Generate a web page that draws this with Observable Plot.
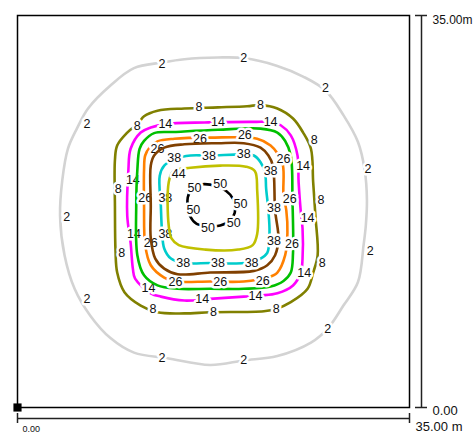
<!DOCTYPE html>
<html>
<head>
<meta charset="utf-8">
<script src="https://cdn.jsdelivr.net/npm/d3@7"></script>
<script src="https://cdn.jsdelivr.net/npm/@observablehq/plot@0.6"></script>
<style>
  html, body { margin: 0; padding: 0; background: white; }
</style>
</head>
<body>
<div id="chart"></div>
<script>
// Contour levels and their colours
const levels = [2, 8, 14, 20, 26, 32, 38, 44, 50];
const colors = ["#d3d3d3", "#808000", "#ff00ff", "#00c000", "#ff8000", "#804000", "#00cccc", "#c0c000", "#000000"];

// Contour outlines (metres)
const c2 = [[3.8,17.1],[4.0,20.3],[4.5,23.1],[5.3,24.9],[6.3,26.7],[8.3,28.75],[10.4,30.3],[12.9,30.8],[14.9,31.1],[17.9,31.25],[20.2,31.2],[23.2,30.5],[25.5,29.55],[27.5,28.3],[29.1,26.1],[30.4,23.7],[31.0,21.2],[31.2,18.5],[31.1,16.25],[30.9,14.5],[30.4,11.2],[29.1,9.1],[27.7,7.05],[26.2,5.8],[23.2,4.6],[20.2,4.2],[17.2,3.8],[13.4,4.4],[10.4,4.9],[8.3,6.2],[6.5,8.2],[5.1,10.6],[4.2,13.6]];
const c8 = [[8.7,18.0],[8.7,22.1],[8.9,23.4],[9.8,24.55],[10.8,25.4],[11.3,26.0],[12.5,26.5],[14.9,26.7],[17.9,26.8],[20.5,26.9],[21.7,27.0],[23.2,26.7],[24.6,25.8],[25.5,24.55],[26.2,23.1],[26.4,20.1],[26.6,17.1],[26.8,13.6],[26.4,12.05],[25.9,10.6],[24.4,9.4],[23.1,8.8],[22.0,8.6],[17.2,8.5],[14.9,8.4],[12.5,8.5],[11.0,9.1],[9.55,10.3],[8.9,12.05],[8.75,14.0]];
const c14 = [[9.8,17.1],[9.9,21.2],[10.1,23.1],[11.0,24.55],[11.9,25.0],[13.2,25.3],[16.7,25.45],[21.1,25.5],[22.6,25.5],[23.5,25.2],[24.4,24.3],[25.0,22.5],[25.1,20.1],[25.3,17.4],[25.45,16.0],[25.45,13.3],[25.3,12.05],[24.6,10.9],[23.2,10.2],[21.7,10.0],[20.2,9.9],[17.2,9.7],[14.9,9.55],[12.8,9.9],[11.9,10.2],[10.5,11.5],[10.3,12.4],[10.1,14.7]];
const c20 = [[10.6,18.0],[10.7,21.2],[10.9,23.1],[11.3,23.8],[12.2,24.5],[14.0,24.6],[17.9,24.8],[21.7,24.9],[23.2,24.55],[23.9,23.8],[24.4,22.5],[24.55,18.5],[24.6,13.8],[24.4,12.05],[23.75,11.3],[22.6,10.8],[20.2,10.6],[17.2,10.6],[14.3,10.6],[12.5,10.9],[11.3,11.8],[10.7,13.6]];
const c26 = [[11.3,18.0],[11.3,21.2],[11.4,22.5],[11.8,23.2],[12.5,23.75],[14.0,24.0],[17.2,24.1],[21.4,24.0],[22.6,23.4],[23.2,22.7],[23.7,21.6],[23.75,18.9],[24.0,17.6],[24.1,15.6],[23.9,13.6],[23.2,12.05],[22.3,11.6],[20.2,11.25],[17.2,11.25],[14.1,11.25],[13.1,11.6],[11.9,12.7],[11.4,14.5]];
const c32 = [[11.9,18.0],[11.9,21.6],[12.2,22.5],[13.1,23.2],[14.9,23.5],[17.9,23.6],[20.2,23.6],[21.7,23.2],[22.4,22.5],[22.8,21.6],[23.0,17.6],[23.3,15.1],[23.0,13.6],[22.3,12.7],[21.1,12.2],[17.2,12.05],[14.3,11.9],[13.1,12.4],[12.3,13.3],[11.9,15.1]];
const c38 = [[12.8,18.0],[12.7,20.7],[13.1,21.6],[14.1,22.2],[15.45,22.5],[17.2,22.5],[20.2,22.6],[21.1,22.5],[21.7,21.9],[22.1,21.0],[22.2,19.55],[22.4,17.6],[22.5,15.6],[22.3,13.8],[21.7,13.3],[20.2,12.9],[17.2,12.9],[14.9,12.9],[13.7,13.3],[13.1,14.2],[12.9,15.8]];
const c44 = [[13.5,20.1],[13.5,16.25],[13.75,15.1],[14.4,14.5],[16.8,14.1],[19.7,14.1],[21.0,14.5],[21.4,15.5],[21.4,19.4],[21.2,21.1],[20.4,21.5],[18.1,21.6],[15.45,21.4],[13.9,21.1]];
const c50 = [[15.2,18.75],[15.6,19.55],[16.3,19.9],[17.2,19.9],[18.3,19.55],[19.0,19.0],[19.4,18.2],[19.4,17.4],[19.0,16.7],[18.1,16.25],[17.2,16.2],[16.0,16.4],[15.4,17.1],[15.2,18.0]];

// Label positions (metres) along each contour
const l2 = [[12.9,30.7],[20.2,31.2],[27.5,28.5],[31.3,21.3],[31.5,14.0],[27.7,7.0],[20.2,4.2],[12.9,4.4],[6.2,9.7],[4.4,17.0],[6.2,25.3]];
const l8 = [[10.7,25.1],[16.2,26.8],[21.7,27.0],[26.5,23.9],[27.1,18.5],[27.2,12.9],[23.1,8.8],[17.5,8.5],[12.1,8.8],[9.3,13.8],[9.0,19.55]];
const l14 = [[13.2,25.3],[17.9,25.45],[22.6,25.5],[25.5,21.6],[25.9,16.9],[25.6,12.0],[21.25,10.0],[16.5,9.7],[11.7,10.7],[10.3,20.3],[10.4,15.5]];
const l20 = [];
const l26 = [[12.5,23.1],[16.3,24.0],[20.3,24.3],[23.75,22.2],[24.3,18.6],[24.5,14.6],[21.9,11.3],[18.1,11.2],[14.1,11.25],[11.9,14.7],[11.4,18.75]];
const l32 = [];
const l38 = [[14.0,22.25],[17.1,22.5],[20.2,22.6],[22.6,21.1],[22.9,17.8],[22.9,14.9],[20.9,12.9],[17.9,12.9],[14.8,12.9],[13.2,15.45],[13.2,18.75]];
const l44 = [[14.4,20.85]];
const l50 = [[15.8,19.6],[18.1,20.0],[19.9,18.2],[19.3,16.5],[17.0,16.0],[15.7,17.6]];

const contours = [c2, c8, c14, c20, c26, c32, c38, c44, c50];
const labels = [l2, l8, l14, l20, l26, l32, l38, l44, l50];

// Axis tick labels
const xTickLabels = ["0.00", "35.00 m"];
const yTickLabels = ["0.00", "35.00m"];
const extent = [0, 35];

const font = "'Liberation Sans', Arial, sans-serif";

const contourMarks = levels.flatMap((lv, i) => {
  const pts = labels[i].map(p => ({x: p[0], y: p[1], t: String(lv)}));
  return [
    Plot.line(contours[i], {x: d => d[0], y: d => d[1], curve: "catmull-rom-closed", stroke: colors[i], strokeWidth: 2.6}),
    Plot.text(pts, {x: "x", y: "y", text: "t", fill: "white", stroke: "white", strokeWidth: 5, fontSize: 12.5}),
    Plot.text(pts, {x: "x", y: "y", text: "t", fill: "#111", fontSize: 12.5})
  ];
});

const chart = Plot.plot({
  width: 474,
  height: 434,
  marginLeft: 17,
  marginRight: 65,
  marginTop: 15,
  marginBottom: 27,
  x: {domain: extent, axis: null},
  y: {domain: extent, axis: null},
  style: {fontFamily: font, background: "white", overflow: "visible"},
  marks: [
    ...contourMarks,
    Plot.frame({stroke: "black", strokeWidth: 1.5}),
    Plot.dot([{x: extent[0], y: extent[0]}], {x: "x", y: "y", symbol: "square", r: 4.6, fill: "black", stroke: null}),
    // bottom dimension line
    Plot.ruleY([0], {x1: () => extent[0], x2: () => extent[1], dy: 11, stroke: "#222", strokeWidth: 1.5}),
    Plot.ruleX(extent, {x: d => d, y1: () => 0, y2: () => 0, dy: 11, insetTop: -5, insetBottom: -5, stroke: "#222", strokeWidth: 1.5}),
    // right dimension line
    Plot.ruleX([35], {x: d => d, y1: () => extent[0], y2: () => extent[1], dx: 12, stroke: "#222", strokeWidth: 1.5}),
    Plot.ruleY(extent, {y: d => d, x1: () => 35, x2: () => 35, dx: 12, insetLeft: -6, insetRight: -6, stroke: "#222", strokeWidth: 1.5}),
    // tick labels
    Plot.text([xTickLabels[0]], {x: () => extent[0], y: () => extent[0], text: d => d, dx: 5, dy: 22, textAnchor: "start", fontSize: 9, fill: "#111"}),
    Plot.text([xTickLabels[1]], {x: () => extent[1], y: () => extent[0], text: d => d, dx: 6, dy: 19.5, textAnchor: "start", fontSize: 13, fill: "#111"}),
    Plot.text([yTickLabels[0]], {x: () => extent[1], y: () => extent[0], text: d => d, dx: 23, dy: 3, textAnchor: "start", fontSize: 13, fill: "#111"}),
    Plot.text([yTickLabels[1]], {x: () => extent[1], y: () => extent[1], text: d => d, dx: 23, dy: 5, textAnchor: "start", fontSize: 12, fill: "#111"})
  ]
});

document.getElementById("chart").appendChild(chart);
</script>
</body>
</html>
